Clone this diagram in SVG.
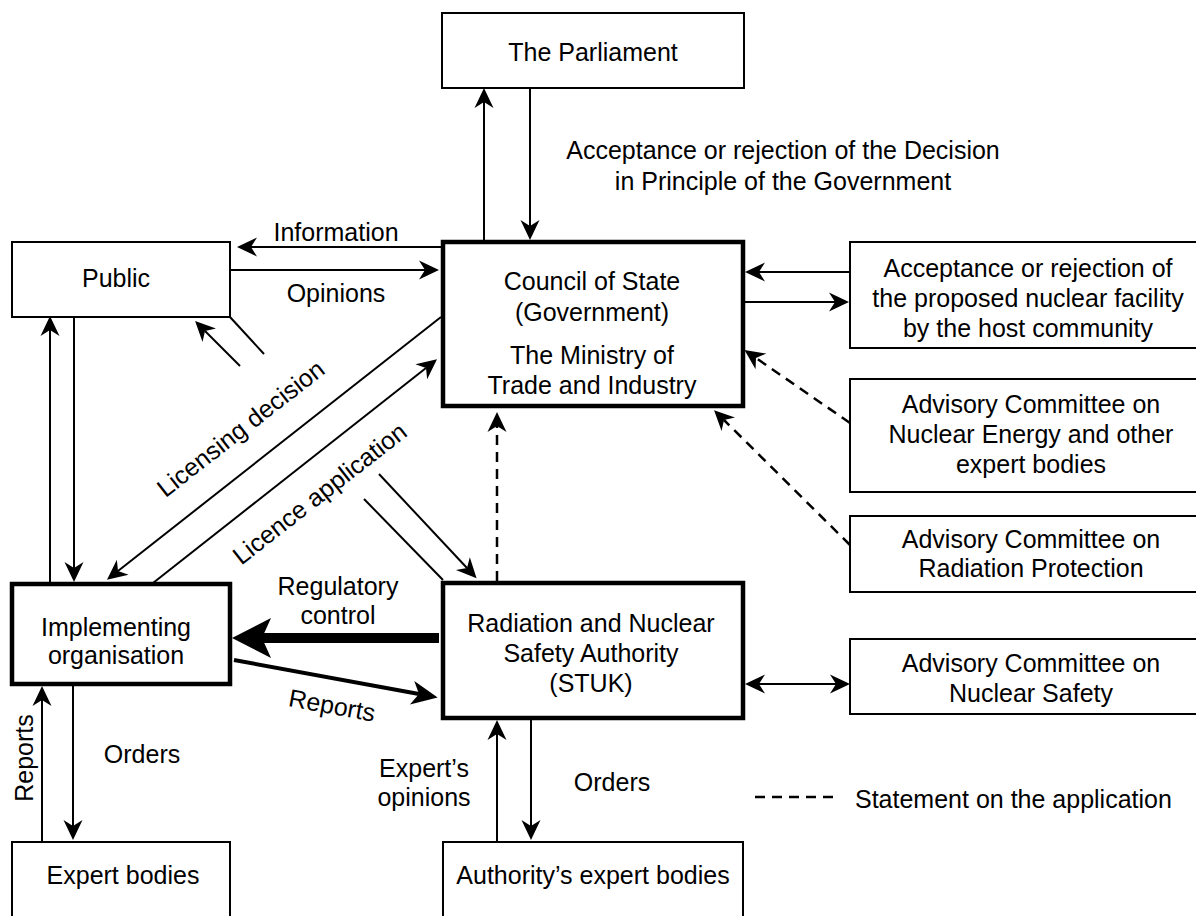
<svg xmlns="http://www.w3.org/2000/svg" width="1196" height="916" viewBox="0 0 1196 916">
<defs>
<style>
.box{fill:#fff;stroke:#000;stroke-width:2}
.tbox{fill:#fff;stroke:#000;stroke-width:4.5}
text{font-family:"Liberation Sans",Arial,sans-serif;font-size:25px;fill:#000}
.c{text-anchor:middle}
.ln{fill:none;stroke:#000;stroke-width:2}
.dash{fill:none;stroke:#000;stroke-width:2.5;stroke-dasharray:10,7}
.a{marker-end:url(#ah)}
.ab{marker-start:url(#ah);marker-end:url(#ah)}
</style>
<marker id="ah" viewBox="-21 -11 22 22" refX="-14" refY="0" markerWidth="22" markerHeight="22" markerUnits="userSpaceOnUse" orient="auto-start-reverse">
<path d="M0,0 L-20,-9.5 L-14,0 L-20,9.5 Z" fill="#000"/>
</marker>
<marker id="ahm" viewBox="-27 -13 28 26" refX="-19" refY="0" markerWidth="28" markerHeight="26" markerUnits="userSpaceOnUse" orient="auto">
<path d="M0,0 L-26,-12 L-19,0 L-26,12 Z" fill="#000"/>
</marker>
<marker id="ahb" viewBox="-40 -21 41 42" refX="-30" refY="0" markerWidth="41" markerHeight="42" markerUnits="userSpaceOnUse" orient="auto">
<path d="M0,0 L-39,-20 L-30,0 L-39,20 Z" fill="#000"/>
</marker>
</defs>
<rect width="1196" height="916" fill="#fff"/>

<g id="connectors">
<path class="ln a" d="M484,242 V102"/>
<path class="ln a" d="M530,88 V226"/>
<path class="ln a" d="M443,247 H251"/>
<path class="ln a" d="M230,270 H425"/>
<path class="ln" d="M230,317 L264,354"/>
<path class="ln a" d="M240,366 L205,331"/>
<path class="ln a" d="M74,317 V568"/>
<path class="ln a" d="M50,584 V330"/>
<path class="ln a" d="M441,317 L118,571"/>
<path class="ln a" d="M153,583 L426,368"/>
<path class="ln a" d="M379,474 L467,568"/>
<path class="ln" d="M364,499 L443,580"/>
<path class="dash a" d="M497,581 V426"/>
<path d="M439,638 H262" fill="none" stroke="#000" stroke-width="10" marker-end="url(#ahb)"/>
<path d="M234,660 L419,694" fill="none" stroke="#000" stroke-width="4" marker-end="url(#ahm)"/>
<path class="ln a" d="M73,684 V826"/>
<path class="ln a" d="M42,842 V700"/>
<path class="ln a" d="M531,718 V826"/>
<path class="ln a" d="M497,842 V734"/>
<path class="ln a" d="M850,272 H759"/>
<path class="ln a" d="M745,302 H835"/>
<path class="dash a" d="M850,423 L756,358"/>
<path class="dash a" d="M850,545 L724,420"/>
<path class="ln ab" d="M759,684 H836"/>
</g>

<g id="labels">
<text class="c" x="783" y="159">Acceptance or rejection of the Decision</text>
<text class="c" x="783" y="190">in Principle of the Government</text>
<text class="c" x="336" y="241">Information</text>
<text class="c" x="336" y="302">Opinions</text>
<text class="c" transform="translate(241,429) rotate(-38)" x="0" y="8">Licensing decision</text>
<text class="c" transform="translate(320,494) rotate(-38)" x="0" y="8">Licence application</text>
<text class="c" x="338" y="595">Regulatory</text>
<text class="c" x="338" y="624">control</text>
<text class="c" transform="translate(332,706) rotate(10.3)" x="0" y="8">Reports</text>
<text class="c" transform="translate(24,758) rotate(-90)" x="0" y="9">Reports</text>
<text class="c" x="142" y="763">Orders</text>
<text class="c" x="424" y="777">Expert’s</text>
<text class="c" x="424" y="806">opinions</text>
<text class="c" x="612" y="791">Orders</text>
</g>

<g id="legend">
<path class="dash" d="M755,797 H837"/>
<text x="855" y="808">Statement on the application</text>
</g>

<g id="parliament">
<rect class="box" x="442" y="13" width="302" height="75"/>
<text class="c" x="593" y="61">The Parliament</text>
</g>
<g id="council">
<rect class="tbox" x="443" y="242" width="300" height="164"/>
<text class="c" x="592" y="290">Council of State</text>
<text class="c" x="592" y="321">(Government)</text>
<text class="c" x="592" y="364">The Ministry of</text>
<text class="c" x="592" y="394">Trade and Industry</text>
</g>
<g id="public">
<rect class="box" x="12" y="242" width="218" height="75"/>
<text class="c" x="116" y="287">Public</text>
</g>
<g id="implementing">
<rect class="tbox" x="12" y="584" width="218" height="100"/>
<text class="c" x="116" y="636">Implementing</text>
<text class="c" x="116" y="664">organisation</text>
</g>
<g id="stuk">
<rect class="tbox" x="443" y="583" width="300" height="135"/>
<text class="c" x="591" y="632">Radiation and Nuclear</text>
<text class="c" x="591" y="662">Safety Authority</text>
<text class="c" x="591" y="692">(STUK)</text>
</g>
<g id="expert-bodies">
<rect class="box" x="12" y="842" width="218" height="90"/>
<text class="c" x="123" y="884">Expert bodies</text>
</g>
<g id="authority-expert-bodies">
<rect class="box" x="443" y="842" width="300" height="90"/>
<text class="c" x="593" y="884">Authority’s expert bodies</text>
</g>
<g id="host-community">
<rect class="box" x="850" y="242" width="360" height="106"/>
<text class="c" x="1028" y="277">Acceptance or rejection of</text>
<text class="c" x="1028" y="307">the proposed nuclear facility</text>
<text class="c" x="1028" y="337">by the host community</text>
</g>
<g id="advisory-energy">
<rect class="box" x="850" y="379" width="360" height="113"/>
<text class="c" x="1031" y="413">Advisory Committee on</text>
<text class="c" x="1031" y="443">Nuclear Energy and other</text>
<text class="c" x="1031" y="473">expert bodies</text>
</g>
<g id="advisory-radiation">
<rect class="box" x="850" y="516" width="360" height="76"/>
<text class="c" x="1031" y="548">Advisory Committee on</text>
<text class="c" x="1031" y="577">Radiation Protection</text>
</g>
<g id="advisory-safety">
<rect class="box" x="850" y="639" width="360" height="75"/>
<text class="c" x="1031" y="672">Advisory Committee on</text>
<text class="c" x="1031" y="702">Nuclear Safety</text>
</g>
</svg>
